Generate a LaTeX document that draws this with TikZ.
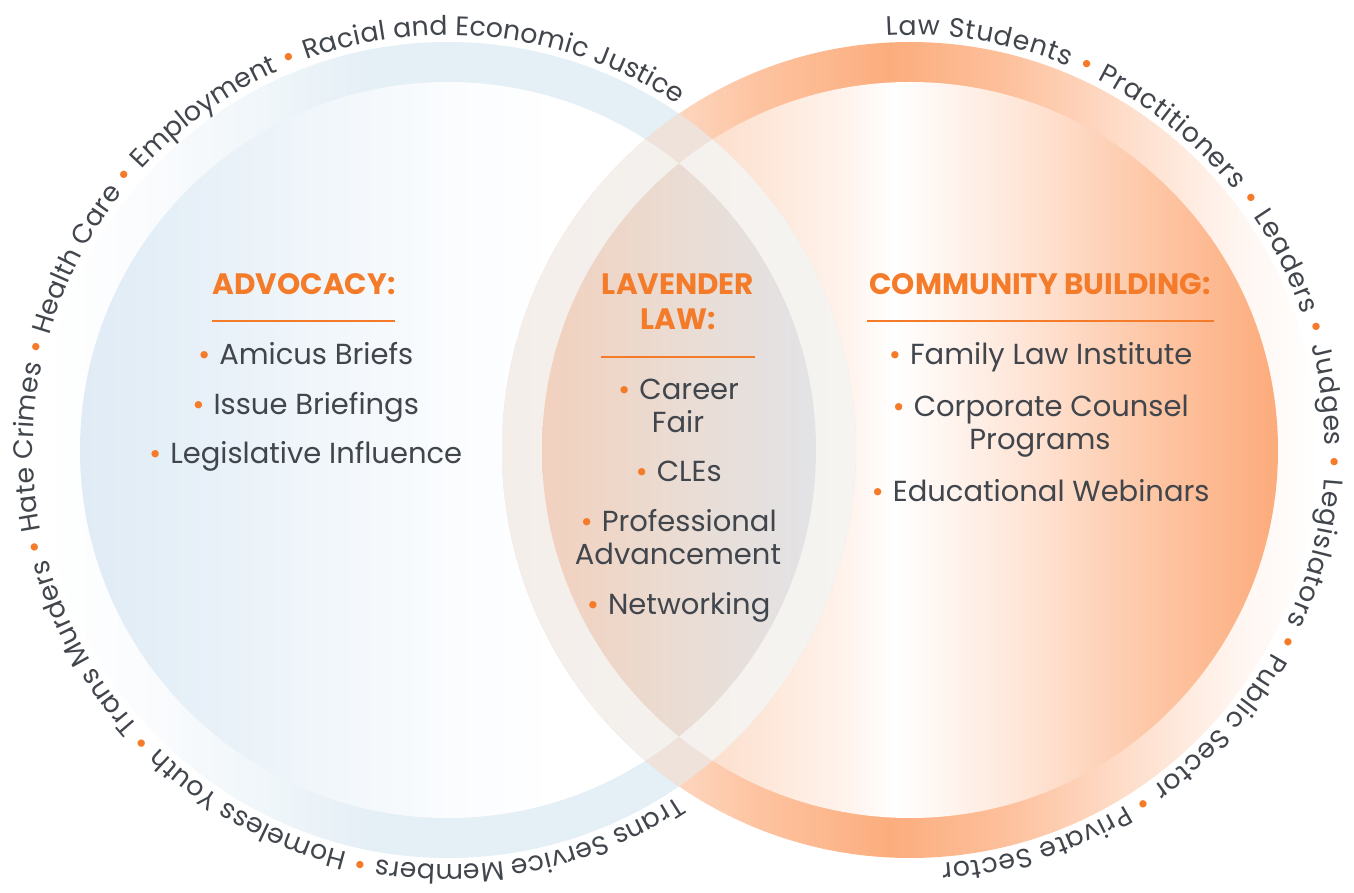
\documentclass[tikz,border=0pt]{standalone}
\usepackage{fontspec}
\setmainfont{Poppins}
\newfontfamily\dotf{DejaVu Sans}
\usetikzlibrary{decorations.text,calc}
\definecolor{txtgray}{HTML}{41454C}
\definecolor{brandorange}{HTML}{F47B29}
% left outer band
\definecolor{loA}{HTML}{FFFFFF}\definecolor{loB}{HTML}{F9FBFD}\definecolor{loC}{HTML}{EEF5F9}\definecolor{loD}{HTML}{E5EFF6}
% left inner disc
\definecolor{liA}{HTML}{E0EBF5}\definecolor{liB}{HTML}{E5EFF7}\definecolor{liC}{HTML}{F2F7FB}\definecolor{liD}{HTML}{FAFCFE}\definecolor{liE}{HTML}{FFFFFF}
% right outer band
\definecolor{roA}{HTML}{FEEADF}\definecolor{roB}{HTML}{FDD3BA}\definecolor{roC}{HTML}{FDC3A0}\definecolor{roD}{HTML}{FCAD7D}\definecolor{roE}{HTML}{FDBF9A}\definecolor{roF}{HTML}{FEDCC8}\definecolor{roG}{HTML}{FFF6F1}\definecolor{roH}{HTML}{FFFFFF}
% right inner disc
\definecolor{riA}{HTML}{F9D0B8}\definecolor{riB}{HTML}{FCDCC8}\definecolor{riC}{HTML}{FFF4EE}\definecolor{riD}{HTML}{FFFFFF}\definecolor{riE}{HTML}{FEE6D8}\definecolor{riF}{HTML}{FDC8A8}\definecolor{riG}{HTML}{FCAB7B}
% lens
\definecolor{tipcol}{HTML}{EEE2DA}
\definecolor{lrA}{HTML}{F4EEEA}\definecolor{lrB}{HTML}{F5F4F1}
\definecolor{lnA}{HTML}{F2D0BD}\definecolor{lnB}{HTML}{EADCD3}\definecolor{lnC}{HTML}{E2E3E6}
\pgfdeclarehorizontalshading{lOuter}{100bp}{color(0bp)=(loA); color(25bp)=(loA); color(32.5bp)=(loB); color(40bp)=(loC); color(45bp)=(loD); color(75bp)=(loD); color(100bp)=(loD)}
\pgfdeclarehorizontalshading{lInner}{100bp}{color(0bp)=(liA); color(25bp)=(liA); color(31bp)=(liB); color(42.5bp)=(liC); color(50bp)=(liD); color(57.5bp)=(liE); color(75bp)=(liE); color(100bp)=(liE)}
\pgfdeclarehorizontalshading{rOuter}{100bp}{color(0bp)=(roA); color(25bp)=(roA); color(36.5bp)=(roB); color(40.8bp)=(roC); color(48.75bp)=(roD); color(55.5bp)=(roE); color(62.85bp)=(roF); color(70.2bp)=(roG); color(75bp)=(roH); color(100bp)=(roH)}
\pgfdeclarehorizontalshading{rInner}{100bp}{color(0bp)=(riA); color(25bp)=(riA); color(35bp)=(riB); color(46bp)=(riC); color(49bp)=(riD); color(57.5bp)=(riE); color(66bp)=(riF); color(75bp)=(riG); color(100bp)=(riG)}
\pgfdeclarehorizontalshading{lensRing}{100bp}{color(0bp)=(lrA); color(25bp)=(lrA); color(75bp)=(lrB); color(100bp)=(lrB)}
\pgfdeclarehorizontalshading{lensIn}{100bp}{color(0bp)=(lnA); color(25bp)=(lnA); color(50bp)=(lnB); color(75bp)=(lnC); color(100bp)=(lnC)}
\newcommand\itbul{{\color{brandorange}\dotf\fontsize{25}{25}\selectfont •}\ }
\newcommand\arcf{\fontsize{26.8}{26.8}\selectfont\color{txtgray}}
\newcommand\arcd{\dotf\fontsize{25}{25}\selectfont\color{brandorange}}
\tikzset{
  head/.style={font=\fontsize{29.5}{33}\selectfont\bfseries, text=brandorange, anchor=base, inner sep=0pt},
  item/.style={font=\fontsize{29}{33}\selectfont, text=txtgray, anchor=base, inner sep=0pt},
  rulel/.style={draw=brandorange, line width=1.5pt},
}
\begin{document}
\begin{tikzpicture}[x=1pt,y=1pt]
\useasboundingbox (0,0) rectangle (1354,892);
\coordinate (L) at (448,442);
\coordinate (R) at (910,442);
% circles
\shade[shading=lOuter] (L) circle[radius=408];
\shade[shading=lInner] (L) circle[radius=368];
\shade[shading=rOuter] (R) circle[radius=408];
\shade[shading=rInner] (R) circle[radius=368];
% lens regions
\begin{scope}
  \clip (L) circle[radius=408];
  \fill[tipcol] (R) circle[radius=408];
\end{scope}
\begin{scope}
  \clip (L) circle[radius=368];
  \clip (R) circle[radius=408];
  \shade[shading=lensRing] (502,0) rectangle (856,892);
\end{scope}
\begin{scope}
  \clip (L) circle[radius=408];
  \clip (R) circle[radius=368];
  \shade[shading=lensRing] (502,0) rectangle (856,892);
\end{scope}
\begin{scope}
  \clip (L) circle[radius=368];
  \clip (R) circle[radius=368];
  \shade[shading=lensIn] (540,0) rectangle (816,892);
\end{scope}
% arc texts
\path[decorate, decoration={text along path, text align={fit to path},
  text={|\arcf|Trans Service Members |\arcd|•|\arcf| Homeless Youth |\arcd|•|\arcf| Trans Murders |\arcd|•|\arcf| Hate Crimes |\arcd|•|\arcf| Health Care |\arcd|•|\arcf| Employment |\arcd|•|\arcf| Racial and Economic Justice}}]
  ($(L)+(-56.5:415)$) arc[start angle=-56.5, end angle=-303.5, radius=415];
\path[decorate, decoration={text along path, text align={fit to path},
  text={|\arcf|Law Students |\arcd|•|\arcf| Practitioners |\arcd|•|\arcf| Leaders |\arcd|•|\arcf| Judges |\arcd|•|\arcf| Legislators |\arcd|•|\arcf| Public Sector |\arcd|•|\arcf| Private Sector}}]
  ($(R)+(93.3:415)$) arc[start angle=93.3, end angle=-85.6, radius=415];
% Advocacy
\node[head] (advh) at (304,597) {ADVOCACY:};
\coordinate (advrl) at (212,571); \coordinate (advrr) at (395,571);
\draw[rulel] (advrl) -- (advrr);
\node[item] (adv1) at (305,527) {\itbul Amicus Briefs};
\node[item] (adv2) at (305,477) {\itbul Issue Briefings};
\node[item] (adv3) at (305,428) {\itbul Legislative Influence};
% Lavender Law
\node[head] (lavh1) at (678,597) {LAVENDER};
\node[head] (lavh2) at (678,562) {LAW:};
\coordinate (lavrl) at (601,535); \coordinate (lavrr) at (755,535);
\draw[rulel] (lavrl) -- (lavrr);
\node[item] (lav1a) at (678,492) {\itbul Career};
\node[item] (lav1b) at (678,459) {Fair};
\node[item] (lav2) at (678,410) {\itbul CLEs};
\node[item] (lav3a) at (678,360) {\itbul Professional};
\node[item] (lav3b) at (678,327) {Advancement};
\node[item] (lav4) at (678,277) {\itbul Networking};
% Community Building
\node[head] (comh) at (1040,597) {COMMUNITY BUILDING:};
\coordinate (comrl) at (867,571); \coordinate (comrr) at (1214,571);
\draw[rulel] (comrl) -- (comrr);
\node[item] (com1) at (1040,527) {\itbul Family Law Institute};
\node[item] (com2a) at (1040,475) {\itbul Corporate Counsel};
\node[item] (com2b) at (1040,442) {Programs};
\node[item] (com3) at (1040,390) {\itbul Educational Webinars};
\end{tikzpicture}
\end{document}
